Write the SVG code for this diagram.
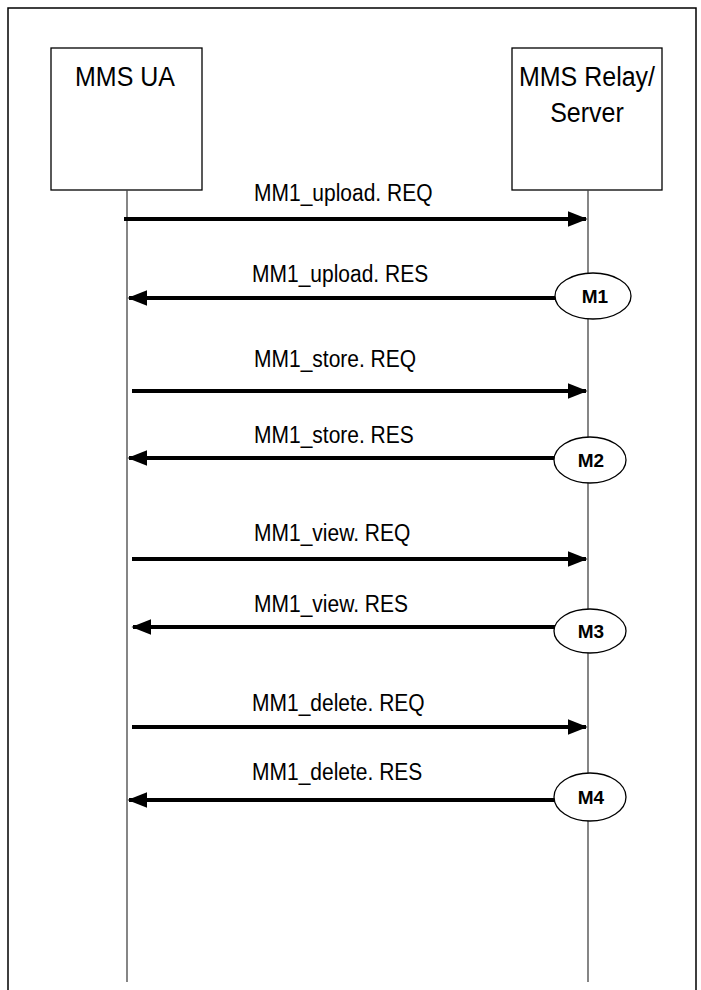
<svg xmlns="http://www.w3.org/2000/svg" width="701" height="990" viewBox="0 0 701 990">
<defs>
<style>
.box{fill:#fff;stroke:#000;stroke-width:1.3}
.life{stroke:#444;stroke-width:1.3;fill:none}
.msg{stroke:#000;stroke-width:4;fill:none}
.ell{fill:#fff;stroke:#000;stroke-width:1.3}
.t{font-family:"Liberation Sans",Arial,sans-serif;fill:#000}
.name{font-size:25px;text-anchor:middle}
.lab{font-size:21px}
.m{font-size:19px;font-weight:bold;text-anchor:middle}
</style>
<marker id="ah" markerWidth="5" markerHeight="4" refX="4.6" refY="2" orient="auto" markerUnits="strokeWidth">
<path d="M0,0 L5,2 L0,4 Z" fill="#000"/>
</marker>
</defs>
<rect width="701" height="990" fill="#fff"/>
<path d="M8,990 V8 H696 V990" fill="none" stroke="#000" stroke-width="1.5"/>
<g id="ua">
<rect class="box" x="51" y="48" width="151" height="142"/>
<text class="t name" transform="translate(125,86) scale(1,1.12)">MMS UA</text>
</g>
<g id="relay">
<rect class="box" x="512" y="48" width="150" height="142"/>
<text class="t name" transform="translate(587,86) scale(1,1.12)">MMS Relay/</text>
<text class="t name" transform="translate(587,122) scale(1,1.12)">Server</text>
</g>
<g id="lifelines">
<line class="life" x1="127" y1="190" x2="127" y2="982"/>
<line class="life" x1="588" y1="190" x2="588" y2="982"/>
</g>
<g id="connectors">
<line class="msg" x1="124" y1="219" x2="586" y2="219" marker-end="url(#ah)"/>
<line class="msg" x1="556" y1="298" x2="129" y2="298" marker-end="url(#ah)"/>
<line class="msg" x1="132" y1="391" x2="586" y2="391" marker-end="url(#ah)"/>
<line class="msg" x1="556" y1="458" x2="129" y2="458" marker-end="url(#ah)"/>
<line class="msg" x1="132" y1="559" x2="586" y2="559" marker-end="url(#ah)"/>
<line class="msg" x1="558" y1="627" x2="133" y2="627" marker-end="url(#ah)"/>
<line class="msg" x1="132" y1="727" x2="586" y2="727" marker-end="url(#ah)"/>
<line class="msg" x1="556" y1="800" x2="129" y2="800" marker-end="url(#ah)"/>
</g>
<g id="labels">
<text class="t lab" transform="translate(254,201) scale(1,1.12)">MM1_upload. REQ</text>
<text class="t lab" transform="translate(252,282) scale(1,1.12)">MM1_upload. RES</text>
<text class="t lab" transform="translate(254,367) scale(1,1.12)">MM1_store. REQ</text>
<text class="t lab" transform="translate(254,443) scale(1,1.12)">MM1_store. RES</text>
<text class="t lab" transform="translate(254,541) scale(1,1.12)">MM1_view. REQ</text>
<text class="t lab" transform="translate(254,612) scale(1,1.12)">MM1_view. RES</text>
<text class="t lab" transform="translate(252,711) scale(1,1.12)">MM1_delete. REQ</text>
<text class="t lab" transform="translate(252,780) scale(1,1.12)">MM1_delete. RES</text>
</g>
<g id="m1"><ellipse class="ell" cx="593" cy="296" rx="38" ry="23"/><text class="t m" x="595" y="303">M1</text></g>
<g id="m2"><ellipse class="ell" cx="590" cy="460" rx="36" ry="23"/><text class="t m" x="591" y="467">M2</text></g>
<g id="m3"><ellipse class="ell" cx="590" cy="631" rx="36" ry="22"/><text class="t m" x="591" y="638">M3</text></g>
<g id="m4"><ellipse class="ell" cx="590" cy="797" rx="36" ry="24"/><text class="t m" x="591" y="804">M4</text></g>
</svg>
